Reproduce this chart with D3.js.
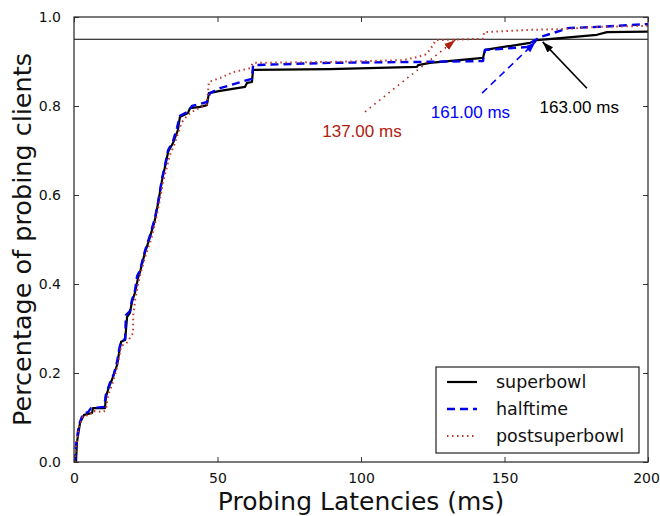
<!DOCTYPE html>
<html>
<head>
<meta charset="utf-8">
<script src="https://cdn.jsdelivr.net/npm/d3@7/dist/d3.min.js"></script>
<style>
  html, body { margin: 0; padding: 0; background: #fff; }
  svg { display: block; }
</style>
</head>
<body>
<svg id="chart" width="660" height="516"></svg>
<script>
// ---- data (latency ms, cumulative fraction) ----
const superbowl = [
  [0.7,0],[1.0,0.043],[2.1,0.088],[3.5,0.106],[6.3,0.11],[6.6,0.121],[10.8,0.121],
  [11.1,0.146],[12.2,0.169],[13.6,0.191],[15.0,0.218],[15.7,0.245],[16.4,0.27],
  [17.8,0.274],[18.5,0.326],[19.5,0.335],[20.2,0.36],[21.3,0.382],[22.3,0.413],
  [23.0,0.427],[24.7,0.47],[26.5,0.506],[28.2,0.544],[29.3,0.582],[30.7,0.634],
  [31.7,0.663],[32.8,0.697],[34.5,0.717],[36.2,0.746],[36.9,0.775],[39.7,0.784],
  [40.4,0.795],[43.9,0.798],[46.3,0.802],[47.0,0.829],[50.9,0.834],[59.6,0.843],
  [60.3,0.852],[62.0,0.854],[62.4,0.881],[89.2,0.883],[119.5,0.888],[119.9,0.892],
  [124.0,0.897],[142.5,0.908],[143.2,0.926],[158.9,0.942],[161.3,0.948],[170.4,0.953],
  [182.2,0.96],[185.7,0.966],[200,0.967]
];
const halftime = [
  [0.3,0],[0.7,0.038],[1.7,0.083],[3.1,0.108],[4.9,0.112],[5.9,0.121],[10.5,0.124],
  [11.1,0.151],[12.5,0.178],[13.9,0.198],[15.0,0.225],[15.7,0.252],[16.4,0.272],
  [17.8,0.276],[18.1,0.33],[19.5,0.339],[20.2,0.364],[21.3,0.387],[22.0,0.418],
  [23.0,0.431],[24.7,0.474],[26.5,0.51],[28.2,0.548],[29.3,0.584],[30.7,0.638],
  [31.7,0.667],[32.8,0.701],[34.5,0.721],[35.9,0.751],[36.9,0.778],[39.7,0.787],
  [41.1,0.8],[46.3,0.809],[47.4,0.829],[50.9,0.84],[60.3,0.858],[62.0,0.861],
  [62.4,0.892],[89.2,0.897],[119.5,0.899],[142.5,0.901],[143.2,0.926],[158.9,0.933],
  [159.6,0.944],[162.4,0.955],[170.4,0.971],[171.8,0.975],[183.3,0.978],[199.7,0.984],[200,0.984]
];
const postsuperbowl = [
  [0.3,0],[0.7,0.034],[1.7,0.076],[3.1,0.103],[5.6,0.106],[6.6,0.115],[10.1,0.112],
  [11.1,0.117],[11.8,0.148],[13.2,0.173],[14.6,0.202],[15.7,0.234],[16.4,0.261],
  [18.1,0.265],[19.5,0.279],[20.6,0.29],[20.6,0.328],[21.3,0.364],[22.3,0.398],
  [23.3,0.427],[25.1,0.467],[26.8,0.499],[28.2,0.535],[29.6,0.578],[31.0,0.629],
  [32.1,0.656],[33.4,0.69],[34.8,0.71],[36.2,0.737],[37.6,0.764],[39.7,0.78],
  [42.2,0.791],[46.3,0.804],[47.0,0.854],[50.9,0.863],[55.4,0.876],[61.3,0.885],
  [62.4,0.897],[89.2,0.899],[114.6,0.903],[119.5,0.91],[122.3,0.915],[124.0,0.926],
  [126.1,0.948],[142.5,0.951],[142.9,0.966],[158.9,0.971],[170.4,0.973],[183.3,0.978],[200,0.98]
];
const seriesNames = ["superbowl", "halftime", "postsuperbowl"];
const xTicks = [0, 50, 100, 150, 200];
const yTicks = [0, 0.2, 0.4, 0.6, 0.8, 1.0];
const threshold = 0.95;
// annotations: label, arrow target [ms, frac], arrow tail [ms, frac], text anchor [ms, frac]
const annLabels = ["137.00 ms", "161.00 ms", "163.00 ms"];
const annTargets = [[132.8, 0.948], [160.8, 0.944], [163.3, 0.944]];
const annTails = [[101.4, 0.787], [142.2, 0.829], [178.7, 0.84]];
const annText = [[86.5, 0.73], [124.3, 0.772], [162.2, 0.784]];

// ---- layout ----
const W = 660, H = 516;
const m = {left: 74, right: 12, top: 17, bottom: 54};
const iw = W - m.left - m.right, ih = H - m.top - m.bottom;
const svg = d3.select("#chart");
const g = svg.append("g").attr("transform", `translate(${m.left},${m.top})`);
const x = d3.scaleLinear().domain([0, 200]).range([0, iw]);
const y = d3.scaleLinear().domain([0, 1]).range([ih, 0]);

const styles = [
  {color: "#000000", width: 2.2, dash: null},
  {color: "#0000ee", width: 2.4, dash: "8,5"},
  {color: "#c0392b", width: 2.0, dash: "1.5,3.5"}
];
const annColors = ["#b0200f", "#0000ff", "#000000"];

svg.append("defs").append("clipPath").attr("id", "clip")
  .append("rect").attr("width", iw).attr("height", ih);

// threshold line
g.append("line").attr("x1", x(0)).attr("x2", x(200))
  .attr("y1", y(threshold)).attr("y2", y(threshold))
  .attr("stroke", "#000").attr("stroke-width", 1.2);

// curves
const line = d3.line().x(d => x(d[0])).y(d => y(d[1]));
[superbowl, halftime, postsuperbowl].forEach((data, i) => {
  const s = styles[i];
  g.append("path").datum(data).attr("d", line)
    .attr("clip-path", "url(#clip)")
    .attr("fill", "none").attr("stroke", s.color)
    .attr("stroke-width", s.width)
    .attr("stroke-dasharray", s.dash)
    .attr("stroke-linejoin", "round");
});

// axes
const tickFont = "DejaVu Sans, sans-serif";
const xAxis = d3.axisBottom(x).tickValues(xTicks).tickSizeInner(-5).tickSizeOuter(0).tickPadding(11).tickFormat(d3.format("d"));
const xAxisTop = d3.axisTop(x).tickValues(xTicks).tickSizeInner(-5).tickSizeOuter(0).tickFormat("");
const yAxis = d3.axisLeft(y).tickValues(yTicks).tickSizeInner(-5).tickSizeOuter(0).tickPadding(13).tickFormat(d3.format(".1f"));
const yAxisRight = d3.axisRight(y).tickValues(yTicks).tickSizeInner(-5).tickSizeOuter(0).tickFormat("");

function styleAxis(sel) {
  sel.select(".domain").remove();
  sel.selectAll(".tick line").attr("stroke", "#333").attr("stroke-width", 1);
  sel.selectAll(".tick text").attr("fill", "#111").style("font-family", tickFont).style("font-size", "14px");
}
const gx = g.append("g").attr("transform", `translate(0,${ih})`).call(xAxis).call(styleAxis);
// keep the last label inside the page
gx.selectAll(".tick text").filter(d => d === 200).attr("dx", "-2px");
g.append("g").call(xAxisTop).call(styleAxis);
g.append("g").call(yAxis).call(styleAxis);
g.append("g").attr("transform", `translate(${iw},0)`).call(yAxisRight).call(styleAxis);

// frame
g.append("rect").attr("width", iw).attr("height", ih)
  .attr("fill", "none").attr("stroke", "#333").attr("stroke-width", 1.3);

// annotations
const defs = svg.select("defs");
annColors.forEach((c, i) => {
  defs.append("marker").attr("id", "ah" + i)
    .attr("viewBox", "0 0 10 10").attr("refX", 10).attr("refY", 5)
    .attr("markerWidth", 11).attr("markerHeight", 11)
    .attr("markerUnits", "userSpaceOnUse").attr("orient", "auto")
    .append("path").attr("d", "M0,1.5 L10,5 L0,8.5 Z").attr("fill", c);
});
const annDash = ["1.5,4.5", "7,5", null];
annLabels.forEach((lab, i) => {
  g.append("line")
    .attr("x1", x(annTails[i][0])).attr("y1", y(annTails[i][1]))
    .attr("x2", x(annTargets[i][0])).attr("y2", y(annTargets[i][1]))
    .attr("stroke", annColors[i]).attr("stroke-width", 1.6)
    .attr("stroke-dasharray", annDash[i])
    .attr("marker-end", `url(#ah${i})`);
  g.append("text")
    .attr("x", x(annText[i][0])).attr("y", y(annText[i][1]))
    .attr("fill", annColors[i])
    .style("font-family", "Liberation Sans, Arial, sans-serif")
    .style("font-size", "17px")
    .text(lab);
});

// legend
const lg = g.append("g").attr("transform", `translate(${436 - m.left},${367 - m.top})`);
lg.append("rect").attr("width", 203).attr("height", 86)
  .attr("fill", "#fff").attr("stroke", "#222").attr("stroke-width", 1.2);
seriesNames.forEach((n, i) => {
  const yy = 15 + i * 27;
  const s = styles[i];
  lg.append("line").attr("x1", 11).attr("x2", 41).attr("y1", yy).attr("y2", yy)
    .attr("stroke", s.color).attr("stroke-width", s.width)
    .attr("stroke-dasharray", s.dash);
  lg.append("text").attr("x", 60).attr("y", yy).attr("dy", "0.35em")
    .style("font-family", tickFont).style("font-size", "17.5px").attr("fill", "#111")
    .text(n);
});

// axis titles
svg.append("text").attr("x", m.left + iw / 2).attr("y", 510)
  .attr("text-anchor", "middle")
  .style("font-family", tickFont).style("font-size", "25px").attr("fill", "#111")
  .text("Probing Latencies (ms)");
svg.append("text").attr("transform", `translate(31,${m.top + ih / 2}) rotate(-90)`)
  .attr("text-anchor", "middle")
  .style("font-family", tickFont).style("font-size", "25.5px").attr("fill", "#111")
  .text("Percentage of probing clients");
</script>
</body>
</html>
